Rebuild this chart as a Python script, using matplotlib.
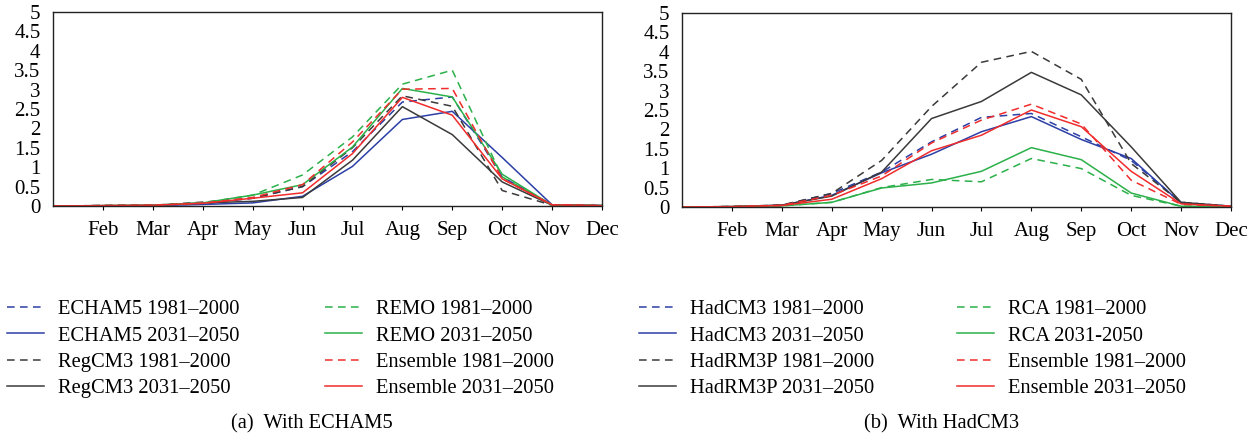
import matplotlib
matplotlib.use("Agg")
import matplotlib.pyplot as plt

plt.rcParams['font.family'] = ['Liberation Serif', 'DejaVu Serif']

months = ["Jan", "Feb", "Mar", "Apr", "May", "Jun", "Jul", "Aug", "Sep", "Oct", "Nov", "Dec"]

# Panel (a) With ECHAM5
echam5_hist = [0, 0.01, 0.02, 0.05, 0.2, 0.5, 1.4, 2.68, 2.81, 0.75, 0.03, 0.01]
echam5_fut = [0, 0.0, 0.01, 0.04, 0.08, 0.25, 1.02, 2.23, 2.44, 1.25, 0.03, 0.01]
regcm3_hist = [0, 0.01, 0.02, 0.1, 0.2, 0.5, 1.5, 2.84, 2.57, 0.4, 0.02, 0.01]
regcm3_fut = [0, 0.01, 0.02, 0.08, 0.12, 0.22, 1.18, 2.56, 1.84, 0.62, 0.02, 0.01]
remo_hist = [0, 0.01, 0.02, 0.08, 0.28, 0.8, 1.78, 3.14, 3.5, 0.75, 0.02, 0.01]
remo_fut = [0, 0.01, 0.02, 0.08, 0.28, 0.55, 1.52, 3.03, 2.81, 0.82, 0.02, 0.01]
ensa_hist = [0, 0.01, 0.02, 0.07, 0.22, 0.55, 1.65, 3.01, 3.03, 0.7, 0.03, 0.01]
ensa_fut = [0, 0.01, 0.02, 0.07, 0.2, 0.34, 1.35, 2.8, 2.34, 0.7, 0.03, 0.01]

# Panel (b) With HadCM3
hadcm3_hist = [0, 0.01, 0.04, 0.35, 0.9, 1.68, 2.31, 2.41, 1.81, 1.2, 0.12, 0.02]
hadcm3_fut = [0, 0.01, 0.04, 0.3, 0.88, 1.36, 1.94, 2.33, 1.74, 1.25, 0.1, 0.02]
hadrm3p_hist = [0, 0.01, 0.05, 0.35, 1.2, 2.59, 3.73, 4.01, 3.29, 1.12, 0.12, 0.02]
hadrm3p_fut = [0, 0.01, 0.05, 0.28, 0.9, 2.28, 2.72, 3.47, 2.89, 1.55, 0.12, 0.02]
rca_hist = [0, 0.01, 0.03, 0.12, 0.5, 0.71, 0.65, 1.25, 0.99, 0.3, 0.02, 0.01]
rca_fut = [0, 0.01, 0.03, 0.12, 0.49, 0.62, 0.92, 1.53, 1.22, 0.36, 0.02, 0.01]
ensb_hist = [0, 0.01, 0.04, 0.3, 0.8, 1.65, 2.24, 2.65, 2.14, 0.69, 0.07, 0.02]
ensb_fut = [0, 0.01, 0.04, 0.2, 0.73, 1.45, 1.85, 2.5, 2.07, 0.92, 0.08, 0.02]

labels_a = ["ECHAM5 1981\u20132000", "ECHAM5 2031\u20132050", "RegCM3 1981\u20132000", "RegCM3 2031\u20132050",
            "REMO 1981\u20132000", "REMO 2031\u20132050", "Ensemble 1981\u20132000", "Ensemble 2031\u20132050"]
labels_b = ["HadCM3 1981\u20132000", "HadCM3 2031\u20132050", "HadRM3P 1981\u20132000", "HadRM3P 2031\u20132050",
            "RCA 1981\u20132000", "RCA 2031-2050", "Ensemble 1981\u20132000", "Ensemble 2031\u20132050"]
caption_a = "(a)  With ECHAM5"
caption_b = "(b)  With HadCM3"
yticks = [0, 0.5, 1, 1.5, 2, 2.5, 3, 3.5, 4, 4.5, 5]
ytick_labels = ["0", "0.5", "1", "1.5", "2", "2.5", "3", "3.5", "4", "4.5", "5"]

BLUE = '#2c3fa6'
BLACK = '#3a3a3a'
GREEN = '#2bb04a'
RED = '#f02c2c'
colors = [BLUE, BLUE, BLACK, BLACK, GREEN, GREEN, RED, RED]
styles = ['--', '-', '--', '-', '--', '-', '--', '-']

series_a = [echam5_hist, echam5_fut, regcm3_hist, regcm3_fut, remo_hist, remo_fut, ensa_hist, ensa_fut]
series_b = [hadcm3_hist, hadcm3_fut, hadrm3p_hist, hadrm3p_fut, rca_hist, rca_fut, ensb_hist, ensb_fut]

W, H = 1255, 437
fig = plt.figure(figsize=(W / 100, H / 100), dpi=100)

FS_TICK = 15
FS_LEG = 14.8
LW = 1.1
DASH = (5, 3.5)

def px_axes(l, t, r, b):
    return fig.add_axes([l / W, 1 - b / H, (r - l) / W, (b - t) / H])

ax_a = px_axes(53, 12, 602, 206)
ax_b = px_axes(682, 13, 1231, 207)

x = list(range(len(months)))

def draw(ax, series, labels):
    handles = []
    for s, c, st, lab in zip(series, colors, styles, labels):
        if st == '--':
            ln, = ax.plot(x, s, color=c, lw=LW, linestyle='--', dashes=DASH, label=lab)
        else:
            ln, = ax.plot(x, s, color=c, lw=LW, linestyle='-', label=lab)
        handles.append(ln)
    ax.set_xlim(0, 11)
    ax.set_ylim(0, 5)
    ax.set_xticks(x[1:])
    ax.set_xticklabels(months[1:], fontsize=FS_TICK)
    ax.set_yticks(yticks)
    ax.set_yticklabels(ytick_labels, fontsize=FS_TICK)
    ax.tick_params(axis='y', length=0, pad=9)
    ax.tick_params(axis='x', direction='out', length=3, width=0.8, pad=8)
    for sp in ax.spines.values():
        sp.set_linewidth(1.0)
        sp.set_color('#222222')
    return handles

ha = draw(ax_a, series_a, labels_a)
hb = draw(ax_b, series_b, labels_b)

def col_legend(handles, labels, xpx, ypx):
    fig.legend(handles, labels, loc='upper left',
               bbox_to_anchor=(xpx / W, 1 - ypx / H), bbox_transform=fig.transFigure,
               frameon=False, fontsize=FS_LEG, borderpad=0, borderaxespad=0,
               handlelength=1.8, handletextpad=0.68, labelspacing=0.33)

col_legend(ha[:4], labels_a[:4], 7, 300)
col_legend(ha[4:], labels_a[4:], 325, 300)
col_legend(hb[:4], labels_b[:4], 639, 300)
col_legend(hb[4:], labels_b[4:], 957, 300)

fig.text(312 / W, 1 - 424 / H, caption_a, ha='center', va='center', fontsize=FS_LEG)
fig.text(942 / W, 1 - 424 / H, caption_b, ha='center', va='center', fontsize=FS_LEG)

fig.savefig("out.png", dpi=100)
